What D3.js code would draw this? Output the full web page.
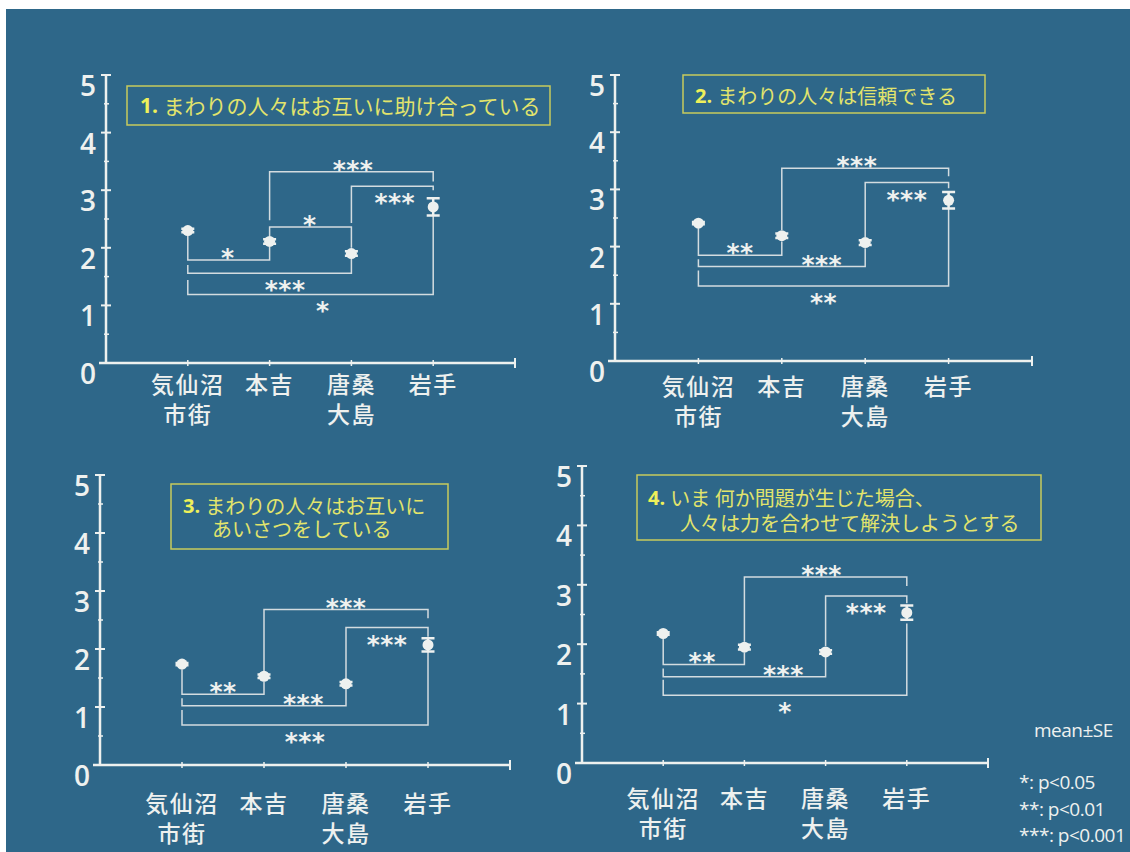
<!DOCTYPE html>
<html>
<head>
<meta charset="utf-8">
<script src="https://cdn.jsdelivr.net/npm/d3@7"></script>
<style>
  html, body { margin: 0; padding: 0; background: #fff; }
  svg { display: block; }
</style>
</head>
<body>
<script>
// ---- data ----
const categories = ['気仙沼\n市街', '本吉', '唐桑\n大島', '岩手']
const yTicks = [0, 1, 2, 3, 4, 5]
const titles = [
  '1. まわりの人々はお互いに助け合っている',
  '2. まわりの人々は信頼できる',
  '3. まわりの人々はお互いに\nあいさつをしている',
  '4. いま 何か問題が生じた場合、\n人々は力を合わせて解決しようとする'
]

const means1 = [2.30, 2.11, 1.90, 2.71]
const se1 = [0.03, 0.04, 0.04, 0.15]
const means2 = [2.41, 2.19, 2.07, 2.81]
const se2 = [0.02, 0.04, 0.04, 0.145]
const means3 = [1.74, 1.53, 1.40, 2.07]
const se3 = [0.02, 0.03, 0.03, 0.115]
const means4 = [2.18, 1.95, 1.87, 2.53]
const se4 = [0.02, 0.04, 0.03, 0.12]

// [from, to, level, leg end at from, leg end at to, mark, label side, label at (category index)]
const brackets1 = [
  [1, 3, 3.32, 2.48, 3.15, '***', 'above', 2.02],
  [2, 3, 3.07, 2.43, 3.00, '***', 'below', 2.53],
  [1, 2, 2.36, 2.19, 2.00, '*', 'above', 1.49],
  [0, 1, 1.79, 2.22, 2.02, '*', 'above', 0.49],
  [0, 2, 1.56, 1.70, 1.82, '***', 'below', 1.19],
  [0, 3, 1.19, 1.44, 2.57, '*', 'below', 1.65]
]
const brackets2 = [
  [1, 3, 3.37, 2.29, 3.23, '***', 'above', 1.9],
  [2, 3, 3.12, 2.17, 3.02, '***', 'below', 2.5],
  [0, 1, 1.85, 2.32, 2.09, '**', 'above', 0.5],
  [0, 2, 1.65, 1.78, 1.97, '***', 'above', 1.48],
  [0, 3, 1.31, 1.58, 2.67, '**', 'below', 1.5]
]
const brackets3 = [
  [1, 3, 2.68, 1.58, 2.53, '***', 'above', 2.0],
  [2, 3, 2.37, 1.47, 2.21, '***', 'below', 2.5],
  [0, 1, 1.22, 1.65, 1.44, '**', 'above', 0.5],
  [0, 2, 1.02, 1.15, 1.31, '***', 'above', 1.48],
  [0, 3, 0.69, 0.95, 1.95, '***', 'below', 1.5]
]
const brackets4 = [
  [1, 3, 3.13, 2.04, 2.98, '***', 'above', 1.95],
  [2, 3, 2.81, 1.97, 2.69, '***', 'below', 2.5],
  [0, 1, 1.66, 2.10, 1.86, '**', 'above', 0.48],
  [0, 2, 1.45, 1.59, 1.79, '***', 'above', 1.48],
  [0, 3, 1.14, 1.40, 2.35, '*', 'below', 1.5]
]

const legendLines = ['mean±SE', '*: p<0.05', '**: p<0.01', '***: p<0.001']

// ---- layout ----
const W = 1130
const H = 852
const bg = '#2e6789'
const ink = '#eef1ef'
const lineInk = '#d3dce0'
const titleInk = '#e2e46c'
const boxInk = '#c8cb5c'

const panels = [
  { means: means1, se: se1, brackets: brackets1, title: titles[0],
    x: [106, 515], y: [363, 75], catDy: 20,
    box: [127, 86, 423, 39], lines: [[140, 105]], fs: 21 },
  { means: means2, se: se2, brackets: brackets2, title: titles[1],
    x: [615, 1032], y: [361, 75], catDy: 24,
    box: [683, 75, 302, 38], lines: [[695, 95]], fs: 20 },
  { means: means3, se: se3, brackets: brackets3, title: titles[2],
    x: [100, 510], y: [765, 475], catDy: 37,
    box: [171, 484, 277, 65], lines: [[183, 505], [212, 528]], fs: 20 },
  { means: means4, se: se4, brackets: brackets4, title: titles[3],
    x: [582, 988], y: [763, 466], catDy: 34,
    box: [637, 475, 404, 65], lines: [[648, 497], [680, 522]], fs: 20 }
]

const svg = d3.select(document.body).append('svg')
  .attr('width', W)
  .attr('height', H)
  .attr('xmlns', 'http://www.w3.org/2000/svg')

svg.append('rect')
  .attr('x', 6).attr('y', 9)
  .attr('width', W - 6).attr('height', H - 9)
  .attr('fill', bg)

const cjk = "'Noto Sans CJK JP', 'Noto Sans', sans-serif"
const latin = "'Open Sans', 'Noto Sans', sans-serif"

function drawPanel(p) {
  const g = svg.append('g')
  const x = d3.scaleLinear([0, 5], p.x)
  const y = d3.scaleLinear([0, 5], p.y)
  const cx = i => x(i + 1)

  // y axis
  g.append('line')
    .attr('x1', x(0)).attr('x2', x(0))
    .attr('y1', y(0)).attr('y2', y(5))
    .attr('stroke', ink).attr('stroke-width', 2.5)
  g.selectAll('.ymaj').data(yTicks.filter(v => v > 0)).join('line')
    .attr('x1', x(0) - 5).attr('x2', x(0) + 5)
    .attr('y1', d => y(d)).attr('y2', d => y(d))
    .attr('stroke', ink).attr('stroke-width', 2)
  g.selectAll('.ymin').data(yTicks.slice(1).map(v => v - 0.5)).join('line')
    .attr('x1', x(0) - 2).attr('x2', x(0) + 3)
    .attr('y1', d => y(d)).attr('y2', d => y(d))
    .attr('stroke', ink).attr('stroke-width', 1.5)
  g.selectAll('.ylab').data(yTicks).join('text')
    .attr('x', x(0) - 10)
    .attr('y', d => y(d) + 10)
    .attr('text-anchor', 'end')
    .attr('dominant-baseline', 'central')
    .attr('font-family', latin)
    .attr('font-size', 28)
    .attr('font-weight', 600)
    .attr('fill', ink)
    .text(d => d)

  // x axis
  g.append('line')
    .attr('x1', x(0) - 7).attr('x2', x(5))
    .attr('y1', y(0)).attr('y2', y(0))
    .attr('stroke', ink).attr('stroke-width', 2.5)
  g.append('line')
    .attr('x1', x(5)).attr('x2', x(5))
    .attr('y1', y(0) - 5).attr('y2', y(0) + 5)
    .attr('stroke', ink).attr('stroke-width', 2)
  g.selectAll('.xt').data(categories).join('line')
    .attr('x1', (d, i) => cx(i)).attr('x2', (d, i) => cx(i))
    .attr('y1', y(0) - 3).attr('y2', y(0) + 3)
    .attr('stroke', ink).attr('stroke-width', 1.5)

  const cat = g.selectAll('.cat').data(categories).join('text')
    .attr('text-anchor', 'middle')
    .attr('font-family', cjk)
    .attr('font-size', 23)
    .attr('font-weight', 500)
    .attr('letter-spacing', 1.5)
    .attr('fill', ink)
  cat.each(function (d, i) {
    d3.select(this).selectAll('tspan').data(d.split('\n')).join('tspan')
      .attr('x', cx(i))
      .attr('y', (t, k) => y(0) + p.catDy + k * 30)
      .attr('dominant-baseline', 'central')
      .text(t => t)
  })

  // title box
  g.append('rect')
    .attr('x', p.box[0]).attr('y', p.box[1])
    .attr('width', p.box[2]).attr('height', p.box[3])
    .attr('fill', 'none').attr('stroke', boxInk).attr('stroke-width', 1.5)
  p.title.split('\n').forEach((line, k) => {
    const t = g.append('text')
      .attr('x', p.lines[k][0]).attr('y', p.lines[k][1])
      .attr('dominant-baseline', 'central')
      .attr('font-family', cjk)
      .attr('font-size', p.fs)
      .attr('fill', titleInk)
    const m = line.match(/^(\d\.)\s?(.*)$/)
    if (m) {
      t.append('tspan').attr('font-weight', 'bold').attr('font-family', latin)
        .attr('fill', '#eef05a').text(m[1] + ' ')
      t.append('tspan').text(m[2])
    } else {
      t.text(line)
    }
  })

  // brackets
  g.selectAll('.br').data(p.brackets).join('path')
    .attr('d', b => `M${cx(b[0])},${y(b[3])}V${y(b[2])}H${cx(b[1])}V${y(b[4])}`)
    .attr('fill', 'none')
    .attr('stroke', lineInk)
    .attr('stroke-width', 1.5)
  g.selectAll('.mark').data(p.brackets).join('text')
    .attr('x', b => cx(b[7]))
    .attr('y', b => y(b[2]) + (b[6] === 'above' ? -8 : 11) + 14)
    .attr('text-anchor', 'middle')
    .attr('font-family', "'DejaVu Sans', sans-serif")
    .attr('font-size', 25)
    .attr('font-weight', 'bold')
    .attr('letter-spacing', 0.5)
    .attr('fill', ink)
    .text(b => b[5])

  // markers with SE bars
  const pts = p.means.map((m, i) => ({ i, m, s: p.se[i] }))
  g.selectAll('.eb').data(pts).join('path')
    .attr('d', d => {
      const x0 = cx(d.i)
      const t = y(d.m + d.s)
      const b = y(d.m - d.s)
      return `M${x0 - 6.5},${t}H${x0 + 6.5}M${x0},${t}V${b}M${x0 - 6.5},${b}H${x0 + 6.5}`
    })
    .attr('fill', 'none')
    .attr('stroke', ink)
    .attr('stroke-width', 2.5)
  g.selectAll('.pt').data(pts).join('circle')
    .attr('cx', d => cx(d.i))
    .attr('cy', d => y(d.m))
    .attr('r', 5.5)
    .attr('fill', ink)
}

panels.forEach(drawPanel)

// legend
const legend = svg.append('g')
  .attr('font-family', latin)
  .attr('font-size', 19)
  .attr('fill', ink)
legend.selectAll('text').data(legendLines).join('text')
  .attr('x', (d, i) => i === 0 ? 1034 : 1019)
  .attr('y', (d, i) => i === 0 ? 730 : 782 + (i - 1) * 26.5)
  .attr('dominant-baseline', 'central')
  .attr('letter-spacing', -0.5)
  .text(d => d)
</script>
</body>
</html>
